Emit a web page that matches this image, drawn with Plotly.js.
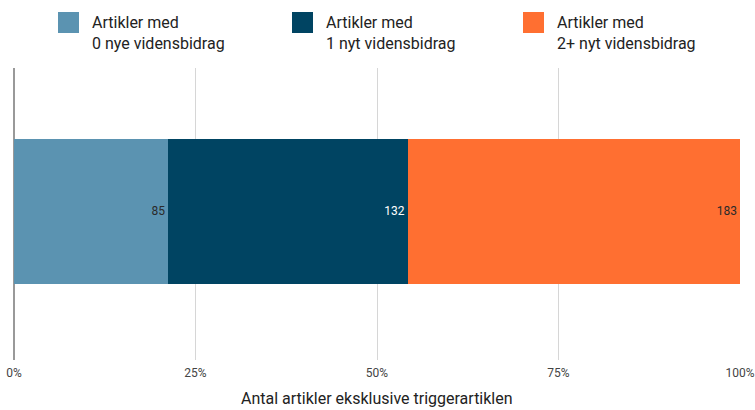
<!DOCTYPE html>
<html>
<head>
<meta charset="utf-8">
<script src="https://cdn.plot.ly/plotly-3.0.1.min.js"></script>
<style>html,body{margin:0;padding:0;background:#fff;}#chart{width:755px;height:410px;}</style>
</head>
<body>
<div id="chart"></div>
<script>
const category = ["Alle"];
const seriesNames = ["Artikler med<br>0 nye vidensbidrag", "Artikler med<br>1 nyt vidensbidrag", "Artikler med<br>2+ nyt vidensbidrag"];
const seriesValues = [[85], [132], [183]];
const seriesColors = ["#5b93b1", "#004462", "#ff6f31"];
const labelColors = ["#2a2a2a", "#ffffff", "#2a2a2a"];
const tickValues = [0, 25, 50, 75, 100];
const tickLabels = ["0%", "25%", "50%", "75%", "100%"];
const xTitle = "Antal artikler eksklusive triggerartiklen";

const FONT = "Roboto, 'Liberation Sans', sans-serif";

const traces = seriesNames.map((name, i) => ({
  type: "bar",
  orientation: "h",
  name: name,
  y: category,
  x: seriesValues[i],
  text: seriesValues[i].map(String),
  textposition: "inside",
  insidetextanchor: "end",
  textfont: {family: FONT, size: 12, color: labelColors[i]},
  marker: {color: seriesColors[i], line: {width: 0}},
  width: 0.497,
  hoverinfo: "skip",
  showlegend: false
}));

// legend drawn as shapes + annotations (pixel -> paper positions)
const L = 14, R = 740, T = 68, B = 360;
const px = v => (v - L) / (R - L);
const py = v => (B - v) / (B - T);
const legendX = [58, 292, 523];
const shapes = legendX.map((x0, i) => ({
  type: "rect", xref: "paper", yref: "paper",
  x0: px(x0), x1: px(x0 + 21), y0: py(33), y1: py(12),
  fillcolor: seriesColors[i], line: {width: 0}
}));
const annotations = legendX.map((x0, i) => ({
  xref: "paper", yref: "paper", x: px(x0 + 32), y: py(11),
  xanchor: "left", yanchor: "top", align: "left",
  text: seriesNames[i], showarrow: false,
  font: {family: FONT, size: 16, color: "#222"}
}));
annotations.push({
  xref: "paper", yref: "paper", x: 0.5, y: py(398),
  xanchor: "center", yanchor: "middle",
  text: xTitle, showarrow: false,
  font: {family: FONT, size: 16, color: "#222"}
});

const layout = {
  width: 755, height: 410,
  margin: {l: L, r: 755 - R, t: T, b: 410 - B, pad: 0},
  paper_bgcolor: "#fff", plot_bgcolor: "#fff",
  barmode: "stack", barnorm: "percent",
  showlegend: false,
  xaxis: {
    range: [0, 100], tickvals: tickValues, ticktext: tickLabels,
    showgrid: true, gridcolor: "#d6d6d6", gridwidth: 1,
    zeroline: true, zerolinecolor: "#999", zerolinewidth: 2,
    ticks: "outside", ticklen: 2, tickcolor: "rgba(0,0,0,0)",
    tickfont: {family: FONT, size: 12, color: "#444"},
    showline: false, fixedrange: true, automargin: false
  },
  yaxis: {showticklabels: false, showgrid: false, zeroline: false, showline: false, ticks: "", range: [-0.5086, 0.4914], fixedrange: true},
  shapes: shapes,
  annotations: annotations,
  font: {family: FONT}
};

Plotly.newPlot("chart", traces, layout, {displayModeBar: false, staticPlot: true});
</script>
</body>
</html>
